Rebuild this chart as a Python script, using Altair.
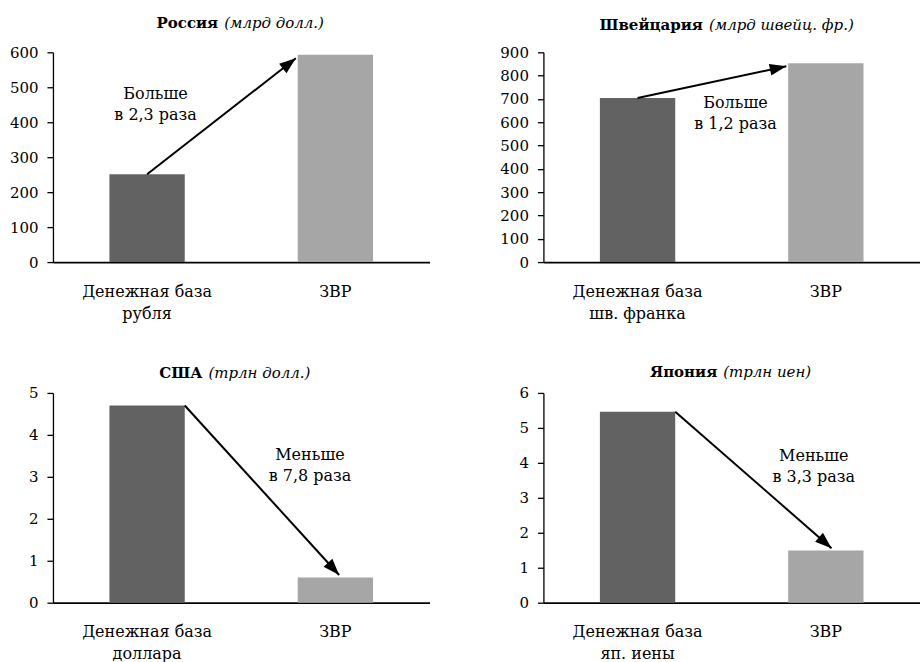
import math
import altair as alt
import pandas as pd

FONT = "DejaVu Serif"
W, H = 377, 210
DARK, LIGHT = "#626262", "#a6a6a6"

# ---- data -------------------------------------------------------------
countries = ["Россия", "Швейцария", "США", "Япония"]
units = ["(млрд долл.)", "(млрд швейц. фр.)", "(трлн долл.)", "(трлн иен)"]
base_labels = ["Денежная база|рубля", "Денежная база|шв. франка",
               "Денежная база|доллара", "Денежная база|яп. иены"]
reserve_label = "ЗВР"
money_base = [251, 704, 4.7, 5.46]
reserves = [593, 853, 0.6, 1.49]
y_max = [600, 900, 5, 6]
y_step = [100, 100, 1, 1]
notes = ["Больше\nв 2,3 раза", "Больше\nв 1,2 раза",
         "Меньше\nв 7,8 раза", "Меньше\nв 3,3 раза"]

# arrows and notes, x in category units (bar i spans i+0.3 .. i+0.7)
arrow_x0 = [0.5, 0.5, 0.7, 0.7]
arrow_x1 = [1.29, 1.29, 1.52, 1.53]
arrow_y1 = [583, 840, 0.66, 1.56]
note_x = [0.545, 1.02, 1.365, 1.436]
note_y = [482, 683, 3.51, 4.2]
title_gap = [29, 27, 20, 21]

HEAD = "M0,0L-0.36,1L0.36,1Z"


def text_width(s, em):
    return len(s) * em


def panel(i):
    ymax = y_max[i]
    bars = pd.DataFrame({
        "cat": [base_labels[i], reserve_label],
        "kind": ["base", "reserves"],
        "value": [money_base[i], reserves[i]],
    })
    yscale = alt.Scale(domain=[0, ymax], nice=False, zero=True)
    yaxis = alt.Axis(
        values=list(range(0, ymax + y_step[i], y_step[i])),
        title=None, grid=False, tickSize=6, tickWidth=1.3, tickColor="black",
        domainColor="black", domainWidth=1.3, labelFont=FONT, labelFontSize=15,
        labelColor="black", labelPadding=9, labelOverlap=False,
    )
    bar = alt.Chart(bars).mark_bar().encode(
        x=alt.X("cat:N", sort=None,
                scale=alt.Scale(paddingInner=0.6, paddingOuter=0.3),
                axis=alt.Axis(title=None, labelAngle=0, ticks=False, tickSize=0,
                              domainColor="black", domainWidth=1.8,
                              labelExpr="split(datum.label, '|')",
                              labelFont=FONT, labelFontSize=16, labelColor="black",
                              labelLineHeight=22, labelPadding=21)),
        y=alt.Y("value:Q", scale=yscale, axis=yaxis),
        color=alt.Color("kind:N", scale=alt.Scale(domain=["base", "reserves"],
                                                  range=[DARK, LIGHT]),
                        legend=None),
    )

    # arrow from the first bar to the second
    x0, x1 = arrow_x0[i], arrow_x1[i]
    y0, y1 = money_base[i], arrow_y1[i]
    dx_px = (x1 - x0) / 2 * W
    dy_px = -(y1 - y0) / ymax * H
    ang = math.degrees(math.atan2(dx_px, -dy_px)) % 360
    arr = pd.DataFrame({"x0": [x0], "x1": [x1], "y0": [y0], "y1": [y1],
                        "ang": [ang]})
    xq = alt.Scale(domain=[0, 2], nice=False, zero=False)
    shaft = alt.Chart(arr).mark_rule(color="black", strokeWidth=2).encode(
        x=alt.X("x0:Q", scale=xq, axis=None), x2="x1",
        y=alt.Y("y0:Q", scale=yscale, axis=yaxis), y2="y1",
    )
    head = alt.Chart(arr).mark_point(shape=HEAD, filled=True, size=1100,
                                     color="black", opacity=1,
                                     strokeWidth=0).encode(
        x=alt.X("x1:Q", scale=xq, axis=None),
        y=alt.Y("y1:Q", scale=yscale, axis=yaxis),
        angle=alt.Angle("ang:Q", scale=None),
    )

    note_df = pd.DataFrame({"x": [note_x[i]], "y": [note_y[i]], "t": [notes[i]]})
    note = alt.Chart(note_df).mark_text(
        font=FONT, fontSize=16, lineBreak="\n", lineHeight=21,
        align="center", baseline="middle", color="black",
    ).encode(
        x=alt.X("x:Q", scale=xq, axis=None),
        y=alt.Y("y:Q", scale=yscale, axis=yaxis),
        text="t:N",
    )

    # title: bold country name followed by italic units
    wb = text_width(countries[i], 10.5)
    wi = text_width(units[i], 8.6)
    gap = 6
    split = W / 2 - (wb + gap + wi) / 2 + wb
    tdf = pd.DataFrame({"a": [countries[i]], "b": [units[i]]})
    t_bold = alt.Chart(tdf).mark_text(
        font=FONT, fontSize=15, fontWeight="bold", align="right",
        baseline="middle", color="black",
    ).encode(x=alt.value(split), y=alt.value(-title_gap[i]), text="a:N")
    t_ital = alt.Chart(tdf).mark_text(
        font=FONT, fontSize=15, fontStyle="italic", align="left",
        baseline="middle", color="black",
    ).encode(x=alt.value(split + gap), y=alt.value(-title_gap[i]), text="b:N")

    return alt.layer(bar, shaft, head, note, t_bold, t_ital).resolve_scale(
        x="independent"
    ).properties(width=W, height=H)


chart = alt.concat(*[panel(i) for i in range(4)], columns=2,
                   spacing={"row": 44, "column": 70}).resolve_scale(
    x="independent", y="independent", color="shared"
).configure_view(stroke=None).properties(
    padding={"left": 9, "top": 16, "right": 0, "bottom": 0},
    background="white",
)

chart.save("out.html", embed_options={"renderer": "svg", "actions": False})
